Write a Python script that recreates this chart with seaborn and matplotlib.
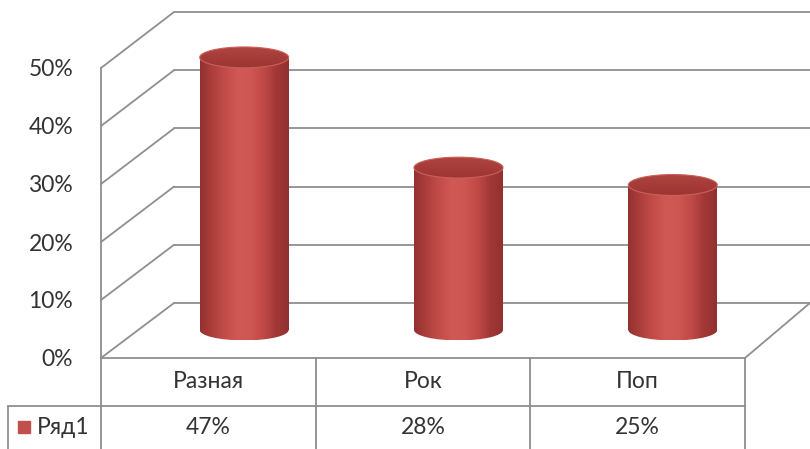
import numpy as np
import matplotlib
matplotlib.use("Agg")
import matplotlib.pyplot as plt
import seaborn as sns
import pandas as pd
from matplotlib.patches import Ellipse, Rectangle
from matplotlib.lines import Line2D
from matplotlib.colors import LinearSegmentedColormap
import matplotlib.transforms as mtransforms

# ---------------- data ----------------
categories = ["Разная", "Рок", "Поп"]
values = [47, 28, 25]
value_labels = ["47%", "28%", "25%"]
series_name = "Ряд1"
y_ticks = [0, 10, 20, 30, 40, 50]
y_tick_labels = ["0%", "10%", "20%", "30%", "40%", "50%"]

W, H = 810, 449
sns.set_theme(style="white")
plt.rcParams['font.family'] = ['Lato', 'DejaVu Sans']

GRID = "#8f8f8f"
TXT = "#333333"
FS = 16.5

fig = plt.figure(figsize=(W / 100, H / 100), dpi=100)
fig.patch.set_facecolor("white")


def rect(l, r, top, bottom):
    return [l / W, 1 - bottom / H, (r - l) / W, (bottom - top) / H]


# back wall (gridlines)
ax_back = fig.add_axes(rect(174, 810, 12, 303))
ax_back.set_ylim(0, 50)
ax_back.set_xlim(0, 1)
ax_back.set_yticks(y_ticks)
ax_back.set_xticks([])
ax_back.tick_params(left=False, labelleft=False)
ax_back.grid(axis="y", color=GRID, lw=1.3)
for ln in ax_back.get_ygridlines():
    ln.set_clip_on(False)
for s in ax_back.spines.values():
    s.set_visible(False)
ax_back.patch.set_visible(False)

# front plane (axis labels + data table)
ax_front = fig.add_axes(rect(101, 745, 68, 358))
ax_front.set_ylim(0, 50)
ax_front.set_xlim(-0.5, len(categories) - 0.5)
ax_front.set_yticks(y_ticks)
ax_front.set_yticklabels(y_tick_labels, fontsize=FS, color=TXT)
ax_front.set_xticks([])
ax_front.tick_params(axis="y", length=0, pad=20)
ax_front.patch.set_visible(False)
for k in ["top", "right"]:
    ax_front.spines[k].set_visible(False)
for k in ["left", "bottom"]:
    ax_front.spines[k].set_color(GRID)
    ax_front.spines[k].set_linewidth(1.3)

# diagonals joining front and back planes
fig.canvas.draw()
to_fig = fig.transFigure.inverted()
for t in y_ticks:
    p1 = ax_front.transData.transform((-0.5, t))
    p2 = ax_back.transData.transform((0, t))
    a, b = to_fig.transform([p1, p2])
    fig.add_artist(Line2D([a[0], b[0]], [a[1], b[1]], color=GRID, lw=1.3,
                          transform=fig.transFigure, zorder=0.5))
p1 = ax_front.transData.transform((len(categories) - 0.5, 0))
p2 = ax_back.transData.transform((1, 0))
a, b = to_fig.transform([p1, p2])
fig.add_artist(Line2D([a[0], b[0]], [a[1], b[1]], color=GRID, lw=1.3,
                      transform=fig.transFigure, zorder=0.5))

# data table below the front plane
blend = mtransforms.blended_transform_factory(ax_front.transData, ax_front.transAxes)
px_per_cat = (745 - 101) / len(categories)
row1_y = (358 - 382) / 290
row2_y = (358 - 428) / 290
sep_y = (358 - 406) / 290
bot_y = (358 - 452) / 290
left_x = -0.5 + (8 - 101) / px_per_cat
n = len(categories)
lines = [
    ([-0.5, -0.5], [0, bot_y]),
    ([left_x, n - 0.5], [sep_y, sep_y]),
    ([left_x, left_x], [sep_y, bot_y]),
]
for i in range(n):
    lines.append(([i + 0.5, i + 0.5], [0, bot_y]))
for xs, ys in lines:
    ax_front.add_line(Line2D(xs, ys, color=GRID, lw=1.3, transform=blend, clip_on=False))
for i, (c, v) in enumerate(zip(categories, value_labels)):
    ax_front.text(i, row1_y, c, transform=blend, ha="center", va="center",
                  fontsize=FS, color=TXT, clip_on=False)
    ax_front.text(i, row2_y, v, transform=blend, ha="center", va="center",
                  fontsize=FS, color=TXT, clip_on=False)

# legend key in table
key_x = -0.5 + (18 - 101) / px_per_cat
key_w = 12 / px_per_cat
key_h = 12 / 290
ax_front.add_patch(Rectangle((key_x, row2_y - key_h / 2 + 0.003), key_w, key_h,
                             transform=blend, color="#C0504D", clip_on=False))
ax_front.text(-0.5 + (37 - 101) / px_per_cat, row2_y, series_name, transform=blend,
              ha="left", va="center", fontsize=FS, color=TXT, clip_on=False)

# cylinders (mid-depth plane)
ax_mid = fig.add_axes(rect(137, 780, 40 - 5.8 * 5, 330 + 5.8 * 5))
df = pd.DataFrame({"cat": categories, "val": values})
sns.barplot(data=df, x="cat", y="val", ax=ax_mid, width=0.415, color="#C0504D",
            saturation=1, linewidth=0)
ax_mid.set_xlim(-0.5, n - 0.5)
ax_mid.set_ylim(-5, 55)
ax_mid.axis("off")
ax_mid.patch.set_visible(False)

side_cmap = LinearSegmentedColormap.from_list(
    "side", ["#933130", "#ad3f3c", "#c44d4a", "#d05855", "#ce5653", "#c04a47", "#a13836", "#923130"])
top_cmap = LinearSegmentedColormap.from_list(
    "top", ["#9c3633", "#a53c39", "#b0443f"])
grad = np.linspace(0, 1, 256).reshape(1, -1)
vgrad = np.linspace(0, 1, 64).reshape(-1, 1)
eh = 3.6

for p in list(ax_mid.patches):
    x0, w, h = p.get_x(), p.get_width(), p.get_height()
    cx = x0 + w / 2
    p.set_facecolor("none")
    im = ax_mid.imshow(grad, cmap=side_cmap, extent=(x0, x0 + w, 0, h),
                       aspect="auto", origin="lower", zorder=2, interpolation="bilinear")
    im.set_clip_path(p)
    bot = Ellipse((cx, 0), w, eh, facecolor="none", edgecolor="none")
    ax_mid.add_patch(bot)
    im2 = ax_mid.imshow(grad, cmap=side_cmap, extent=(x0, x0 + w, -eh / 2, eh / 2),
                        aspect="auto", origin="lower", zorder=2, interpolation="bilinear")
    im2.set_clip_path(bot)
    top = Ellipse((cx, h), w, eh, facecolor="none", edgecolor="#c9605b", lw=0.8, zorder=4)
    ax_mid.add_patch(top)
    im3 = ax_mid.imshow(vgrad, cmap=top_cmap, extent=(x0, x0 + w, h - eh / 2, h + eh / 2),
                        aspect="auto", origin="lower", zorder=3, interpolation="bilinear")
    im3.set_clip_path(top)

ax_mid.set_xlim(-0.5, n - 0.5)
ax_mid.set_ylim(-5, 55)

fig.savefig("out.png", dpi=100, facecolor="white")
